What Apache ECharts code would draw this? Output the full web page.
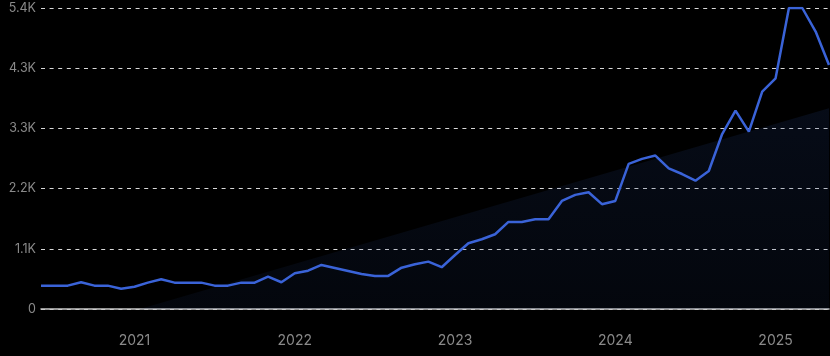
<!DOCTYPE html>
<html>
<head>
<meta charset="utf-8">
<script src="https://cdn.jsdelivr.net/npm/echarts@6/dist/echarts.min.js"></script>
<style>
html,body{margin:0;padding:0;background:#000;}
#c{width:830px;height:356px;}
</style>
</head>
<body>
<div id="c"></div>
<script>
const months = [
 '2020-06','2020-07','2020-08','2020-09','2020-10','2020-11','2020-12',
 '2021-01','2021-02','2021-03','2021-04','2021-05','2021-06','2021-07','2021-08','2021-09','2021-10','2021-11','2021-12',
 '2022-01','2022-02','2022-03','2022-04','2022-05','2022-06','2022-07','2022-08','2022-09','2022-10','2022-11','2022-12',
 '2023-01','2023-02','2023-03','2023-04','2023-05','2023-06','2023-07','2023-08','2023-09','2023-10','2023-11','2023-12',
 '2024-01','2024-02','2024-03','2024-04','2024-05','2024-06','2024-07','2024-08','2024-09','2024-10','2024-11','2024-12',
 '2025-01','2025-02','2025-03','2025-04','2025-05'
];
const values = [
 421,421,421,482,421,421,366,
 400,475,536,475,475,475,421,421,475,475,583,482,
 644,691,794,740,686,632,596,596,745,807,854,753,
 974,1185,1257,1348,1569,1569,1618,1618,1948,2057,2105,1889,
 1948,2616,2706,2766,2536,2433,2313,2487,3154,3574,3196,3917,
 4158,5425,5425,5000,4398
];
const trendMonths = ['2020-06','2025-05'];
const trendValues = [-520, 3620];
const yTickLabels = ['0','1.1K','2.2K','3.3K','4.3K','5.4K'];
const yMax = 5425;
const yStep = 1085;

const chart = echarts.init(document.getElementById('c'), null, {renderer:'canvas'});
chart.setOption({
  backgroundColor:'#000',
  animation:false,
  grid:{left:41,right:1,top:8,bottom:47,containLabel:false},
  xAxis:{
    type:'category',
    data:months,
    boundaryGap:false,
    axisLine:{show:true,lineStyle:{color:'#c8c8c8',width:1.5}},
    axisTick:{show:false},
    splitLine:{show:false},
    axisLabel:{
      color:'#8a8a8a',fontSize:14,fontFamily:'Inter',margin:25,
      interval:(i,v)=>v.slice(5)==='01',
      formatter:(v)=>v.slice(0,4)
    }
  },
  yAxis:{
    type:'value',min:0,max:yMax,interval:yStep,
    axisLine:{show:false},axisTick:{show:false},
    axisLabel:{color:'#8a8a8a',fontSize:12.5,fontFamily:'Inter',margin:5,
      formatter:(v)=>yTickLabels[Math.round(v/yStep)]},
    splitLine:{show:true,lineStyle:{color:'#d8d8d8',width:1,type:[4,4.6]}}
  },
  series:[
    {
      type:'line',
      data:trendMonths.map((m,i)=>[m,trendValues[i]]),
      symbol:'none',
      lineStyle:{width:0,opacity:0},
      areaStyle:{color:new echarts.graphic.LinearGradient(0,0,0,1,[
        {offset:0,color:'rgba(30,55,110,0.30)'},
        {offset:1,color:'rgba(30,55,110,0.15)'}
      ])},
      z:1,silent:true
    },
    {
      type:'line',
      data:values,
      symbol:'none',
      smooth:false,
      lineStyle:{color:'#3a63d8',width:2.5},
      z:3
    }
  ]
});
</script>
</body>
</html>
